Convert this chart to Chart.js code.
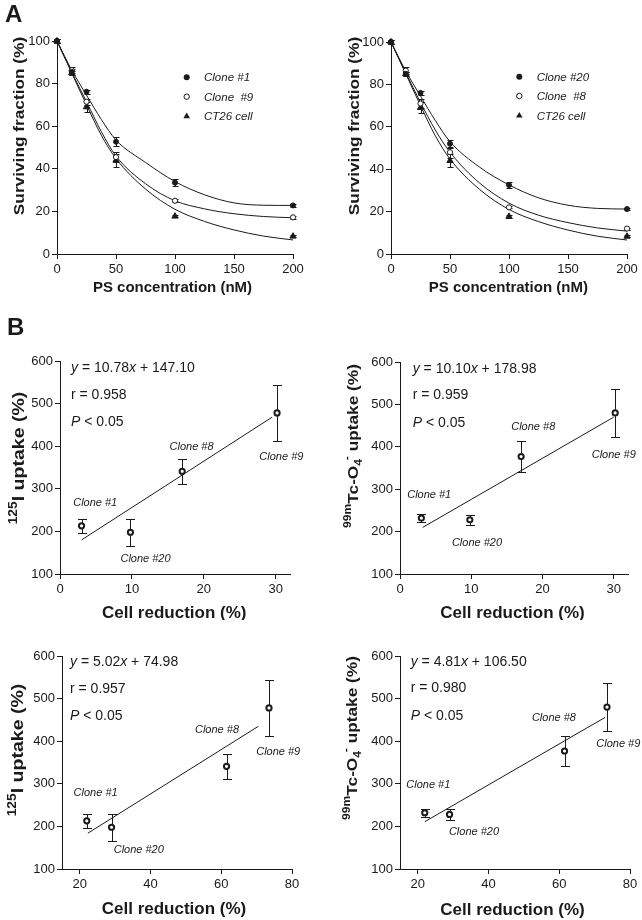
<!DOCTYPE html>
<html>
<head>
<meta charset="utf-8">
<script src="https://cdn.jsdelivr.net/npm/chart.js@4.4.1/dist/chart.umd.min.js"></script>
<style>
html,body{margin:0;padding:0;background:#fff;}
#wrap{position:relative;width:642px;height:920px;overflow:hidden;background:#fff;}
#wrap canvas{position:absolute;}
</style>
</head>
<body>
<div id="wrap"></div>
<script>
// ================= DATA =================
// Panel A: surviving fraction vs PS concentration
const doses = [0, 12.5, 25, 50, 100, 200];
const clone1SF  = [100, 85.5, 76.2, 52.7, 33.5, 22.8];
const clone1Err = [1, 1.5, 1, 2, 1.8, 0.6];
const clone9SF  = [100, 86.3, 71.5, 45.5, 25.0, 17.2];
const clone9Err = [1, 1.5, 1.5, 2.5, 0.6, 0.6];
const clone20SF  = [100, 85.0, 76.0, 52.0, 32.5, 21.2];
const clone20Err = [1, 1, 1, 2, 1.5, 0.5];
const clone8SF  = [100, 86.5, 71.0, 48.0, 22.0, 12.0];
const clone8Err = [1, 1.5, 2, 2.5, 0.5, 0.5];
const ct26SF  = [100, 85.0, 69.0, 44.0, 17.7, 8.3];
const ct26Err = [1, 1, 2.5, 3, 0.5, 0.5];

// fitted curves
const fitDoses   = [0, 12.5, 25, 37.5, 50, 75, 100, 125, 150, 175, 200];
const clone1Fit  = [100, 86.3, 74.6, 63.2, 53.5, 43.0, 34.0, 27.8, 24.0, 22.9, 22.8];
const clone9Fit  = [100, 85.3, 71.5, 57.5, 46.0, 33.0, 25.0, 21.2, 18.9, 17.6, 17.0];
const clone20Fit = [100, 86.3, 74.5, 63.0, 53.0, 41.0, 32.6, 26.5, 23.0, 21.5, 21.2];
const clone8Fit  = [100, 85.5, 71.5, 58.5, 48.0, 33.5, 24.0, 18.3, 14.8, 12.3, 10.8];
const ct26Fit    = [100, 85.0, 70.0, 55.8, 44.8, 30.5, 21.0, 15.3, 11.3, 8.4, 6.6];

// Panel B: uptake vs cell reduction
const cloneNames = ['Clone #1', 'Clone #20', 'Clone #8', 'Clone #9'];
const cellReductionLow  = [3, 9.8, 17, 30.2];      // top row x
const cellReductionHigh = [22, 29, 61.5, 73.5];    // bottom row x
const iodineUptake = [213, 198, 341, 478];
const iodineErr    = [17, 32, 29, 65];
const tcUptake     = [232, 228, 377, 480];
const tcErr        = [10, 12, 36, 57];

// regression lines (end points)
const regIodineLowX  = [3, 29.5],    regIodineLowY  = [180, 468];
const regTcLowX      = [3.2, 30],    regTcLowY      = [210, 470];
const regIodineHighX = [22.3, 70.5], regIodineHighY = [184, 435];
const regTcHighX     = [22, 73],     regTcHighY     = [211, 456];

const eqIodineLow  = ['10.78', '147.10', '0.958'];
const eqTcLow      = ['10.10', '178.98', '0.959'];
const eqIodineHigh = ['5.02', '74.98', '0.957'];
const eqTcHigh     = ['4.81', '106.50', '0.980'];

// tick values
const ticksDose   = [0, 50, 100, 150, 200];
const ticksSF     = [0, 20, 40, 60, 80, 100];
const ticksCRLow  = [0, 10, 20, 30];
const ticksCRHigh = [20, 40, 60, 80];
const ticksUptake = [100, 200, 300, 400, 500, 600];

// ================= HELPERS =================
const FONT = "'Liberation Sans', Arial, Helvetica, sans-serif";
const INK = '#1a1a1a';

function xy(xs, ys) { return xs.map((x, i) => ({ x: x, y: ys[i] })); }
function fontStr(r) { return (r.italic ? 'italic ' : '') + (r.bold ? 'bold ' : '') + r.size + 'px ' + FONT; }

function drawRich(ctx, item, ox, oy) {
  const runs = item.runs;
  ctx.save();
  ctx.translate(item.x - ox, item.y - oy);
  if (item.rot) ctx.rotate(item.rot * Math.PI / 180);
  ctx.scale(item.stretch || 1, 1);
  let total = 0;
  const widths = runs.map(r => { ctx.font = fontStr(r); const w = ctx.measureText(r.t).width + (r.dx || 0); total += w; return w; });
  const main = Math.max.apply(null, runs.map(r => r.size));
  let x = item.align === 'left' ? 0 : (item.align === 'right' ? -total : -total / 2);
  const base = main * 0.36;
  ctx.fillStyle = INK;
  ctx.textAlign = 'left';
  ctx.textBaseline = 'alphabetic';
  runs.forEach((r, i) => { ctx.font = fontStr(r); ctx.fillText(r.t, x + (r.dx || 0), base + (r.dy || 0)); x += widths[i]; });
  ctx.restore();
}

function drawMarker(ctx, kind, x, y) {
  ctx.save();
  ctx.lineWidth = 1; ctx.strokeStyle = INK; ctx.fillStyle = INK;
  ctx.beginPath();
  if (kind === 'filled') { ctx.arc(x, y, 3, 0, 2 * Math.PI); ctx.fill(); }
  else if (kind === 'open') { ctx.fillStyle = '#fff'; ctx.arc(x, y, 2.7, 0, 2 * Math.PI); ctx.fill(); ctx.stroke(); }
  else {
    const r = 3.8;
    for (let k = 0; k < 3; k++) {
      const a = k * 2 * Math.PI / 3;
      const px = x + Math.sin(a) * r, py = y - Math.cos(a) * r;
      if (k === 0) ctx.moveTo(px, py); else ctx.lineTo(px, py);
    }
    ctx.closePath(); ctx.fill();
  }
  ctx.restore();
}

const DECO = {};

const errorBars = {
  id: 'errorBars',
  beforeDatasetsDraw(chart) {
    const ctx = chart.ctx, ys = chart.scales.y;
    chart.data.datasets.forEach((ds, i) => {
      if (!ds.errors) return;
      const meta = chart.getDatasetMeta(i);
      const cw = ds.capHalf || 3;
      ctx.save();
      ctx.strokeStyle = INK; ctx.lineWidth = 1;
      meta.data.forEach((pt, j) => {
        const e = ds.errors[j];
        if (!e) return;
        const v = ds.data[j].y;
        const y1 = Math.round(ys.getPixelForValue(v + e)) + 0.5;
        const y2 = Math.round(ys.getPixelForValue(v - e)) + 0.5;
        const x = Math.round(pt.x) + 0.5;
        ctx.beginPath();
        ctx.moveTo(x, y1); ctx.lineTo(x, y2);
        ctx.moveTo(x - cw, y1); ctx.lineTo(x + cw, y1);
        ctx.moveTo(x - cw, y2); ctx.lineTo(x + cw, y2);
        ctx.stroke();
      });
      ctx.restore();
    });
  }
};

const deco = {
  id: 'deco',
  afterDraw(chart) {
    const spec = DECO[chart.canvas.id];
    if (!spec) return;
    const ctx = chart.ctx, ox = spec.offset[0], oy = spec.offset[1];
    (spec.texts || []).forEach(t => drawRich(ctx, t, ox, oy));
    (spec.labels || []).forEach(l => {
      const px = chart.scales.x.getPixelForValue(l.x) + ox;
      const py = chart.scales.y.getPixelForValue(l.y) + oy;
      drawRich(ctx, { x: px, y: py, runs: [{ t: l.t, size: 11, italic: true }] }, ox, oy);
    });
    if (spec.legend) {
      const lg = spec.legend;
      lg.rows.forEach(r => {
        drawMarker(ctx, r.kind, lg.markerX - ox, r.y - oy);
        drawRich(ctx, { x: lg.textX, y: r.y, align: 'left', runs: [{ t: r.t, size: 11.5, italic: true }] }, ox, oy);
      });
    }
  }
};
Chart.register(errorBars, deco);

function pointSet(label, xs, ys, errs, style, filled, radius, bw, cap) {
  return {
    label: label, data: xy(xs, ys), errors: errs, capHalf: cap, showLine: false,
    pointStyle: style, pointRadius: radius, pointHoverRadius: radius, pointBorderWidth: bw,
    pointBackgroundColor: filled ? INK : '#fff', pointBorderColor: INK,
    borderColor: INK, backgroundColor: filled ? INK : '#fff', clip: false
  };
}
function lineSet(label, xs, ys, smooth) {
  return {
    label: label, data: xy(xs, ys), showLine: true, pointRadius: 0, pointHoverRadius: 0,
    borderColor: INK, borderWidth: 1, fill: false, clip: false,
    cubicInterpolationMode: smooth ? 'monotone' : 'default', tension: 0
  };
}
function axis(pos, min, max, tickVals, size) {
  const o = {
    type: 'linear', position: pos, min: min, max: max, bounds: 'data',
    afterBuildTicks: s => { s.ticks = tickVals.map(v => ({ value: v })); },
    ticks: { autoSkip: false, maxRotation: 0,
             font: { family: FONT, size: 13 }, color: INK, padding: pos === 'left' ? 2 : 3 },
    grid: { drawOnChartArea: false, drawTicks: true, tickLength: 5, color: INK, lineWidth: 1 },
    border: { display: true, color: INK, width: 1 },
    title: { display: false }
  };
  if (pos === 'left') o.afterFit = s => { s.width = size; };
  else o.afterFit = s => { s.height = size; };
  return o;
}

function makeChart(p, datasets, xAx, yAx, spec) {
  const c = document.createElement('canvas');
  c.id = p.id; c.width = p.w; c.height = p.h;
  c.style.left = p.left + 'px'; c.style.top = p.top + 'px';
  c.style.width = p.w + 'px'; c.style.height = p.h + 'px';
  document.getElementById('wrap').appendChild(c);
  spec.offset = [p.left, p.top];
  DECO[p.id] = spec;
  new Chart(c.getContext('2d'), {
    type: 'scatter',
    data: { datasets: datasets },
    options: {
      responsive: false, animation: false, events: [], devicePixelRatio: 1,
      layout: { padding: { left: 0, top: p.padTop, right: p.padRight, bottom: 0 } },
      plugins: { legend: { display: false }, tooltip: { enabled: false } },
      scales: { x: axis('bottom', xAx[0], xAx[1], xAx[2], p.xH), y: axis('left', yAx[0], yAx[1], yAx[2], p.yW) }
    }
  });
}

function eqTexts(x, y0, eq) {
  return [
    { x: x, y: y0, align: 'left', runs: [{ t: 'y', size: 14, italic: true }, { t: ' = ' + eq[0], size: 14 }, { t: 'x', size: 14, italic: true }, { t: ' + ' + eq[1], size: 14 }] },
    { x: x, y: y0 + 26.7, align: 'left', runs: [{ t: 'r = ' + eq[2], size: 14 }] },
    { x: x, y: y0 + 54, align: 'left', runs: [{ t: 'P', size: 14, italic: true }, { t: ' < 0.05', size: 14 }] }
  ];
}
function cloneLabels(pos) { return pos.map((q, i) => ({ x: q[0], y: q[1], t: cloneNames[i] })); }

const titleSF = { t: 'Surviving fraction (%)', size: 15, bold: true };
const titlePS = { t: 'PS concentration (nM)', size: 15, bold: true };
const titleCR = { t: 'Cell reduction (%)', size: 17, bold: true };
const iodineTitle = [{ t: '125', size: 12, bold: true, dy: -7.5 }, { t: 'I uptake (%)', size: 17, bold: true }];
const tcTitle = [{ t: '99m', size: 10.5, bold: true, dy: -7 }, { t: 'Tc-O', size: 15, bold: true }, { t: '4', size: 10.5, bold: true, dy: 4 }, { t: '-', size: 10.5, bold: true, dy: -8, dx: -1 }, { t: ' uptake (%)', size: 15, bold: true }];

// ================= PANEL A =================
makeChart(
  { id: 'a1', left: 0, top: 0, w: 320, h: 312, padTop: 41, padRight: 27, yW: 57, xH: 58 },
  [
    pointSet('Clone #1', doses, clone1SF, clone1Err, 'circle', true, 2.5, 1, 3),
    pointSet('Clone #9', doses, clone9SF, clone9Err, 'circle', false, 2.6, 1, 3),
    pointSet('CT26 cell', doses, ct26SF, ct26Err, 'triangle', true, 3.6, 1, 3),
    lineSet('Clone #1 fit', fitDoses, clone1Fit, true),
    lineSet('Clone #9 fit', fitDoses, clone9Fit, true),
    lineSet('CT26 fit', fitDoses, ct26Fit, true)
  ],
  [0, 200, ticksDose], [0, 100, ticksSF],
  {
    texts: [
      { x: 5, y: 13, align: 'left', runs: [{ t: 'A', size: 24, bold: true }] },
      { x: 18.3, y: 126, rot: -90, stretch: 1.15, runs: [titleSF] },
      { x: 172.5, y: 286.7, runs: [titlePS] }
    ],
    legend: { markerX: 186.7, textX: 204, rows: [
      { y: 77.3, kind: 'filled', t: 'Clone #1' },
      { y: 96.7, kind: 'open', t: 'Clone  #9' },
      { y: 116.3, kind: 'tri', t: 'CT26 cell' } ] }
  }
);

makeChart(
  { id: 'a2', left: 320, top: 0, w: 322, h: 312, padTop: 42, padRight: 15, yW: 71, xH: 58 },
  [
    pointSet('Clone #20', doses, clone20SF, clone20Err, 'circle', true, 2.5, 1, 3),
    pointSet('Clone #8', doses, clone8SF, clone8Err, 'circle', false, 2.6, 1, 3),
    pointSet('CT26 cell', doses, ct26SF, ct26Err, 'triangle', true, 3.6, 1, 3),
    lineSet('Clone #20 fit', fitDoses, clone20Fit, true),
    lineSet('Clone #8 fit', fitDoses, clone8Fit, true),
    lineSet('CT26 fit', fitDoses, ct26Fit, true)
  ],
  [0, 200, ticksDose], [0, 100, ticksSF],
  {
    texts: [
      { x: 353.3, y: 126, rot: -90, stretch: 1.15, runs: [titleSF] },
      { x: 508.3, y: 286.7, runs: [titlePS] }
    ],
    legend: { markerX: 519.3, textX: 536.7, rows: [
      { y: 76.7, kind: 'filled', t: 'Clone #20' },
      { y: 96, kind: 'open', t: 'Clone  #8' },
      { y: 115.7, kind: 'tri', t: 'CT26 cell' } ] }
  }
);

// ================= PANEL B =================
function bSets(xs, ys, errs, rx, ry) {
  return [
    pointSet('uptake', xs, ys, errs, 'circle', false, 2.6, 2, 4.5),
    lineSet('regression', rx, ry, false)
  ];
}

makeChart(
  { id: 'b1', left: 0, top: 312, w: 320, h: 308, padTop: 49, padRight: 30, yW: 60, xH: 46 },
  bSets(cellReductionLow, iodineUptake, iodineErr, regIodineLowX, regIodineLowY),
  [0, 32, ticksCRLow], [100, 600, ticksUptake],
  {
    texts: [
      { x: 7, y: 326.5, align: 'left', runs: [{ t: 'B', size: 24, bold: true }] },
      { x: 18, y: 458, rot: -90, stretch: 1.15, runs: iodineTitle },
      { x: 174.2, y: 611.7, runs: [titleCR] }
    ].concat(eqTexts(71, 367.3, eqIodineLow)),
    labels: cloneLabels([[4.9, 270], [11.9, 137], [18.3, 400], [30.8, 378]])
  }
);

makeChart(
  { id: 'b2', left: 320, top: 312, w: 322, h: 308, padTop: 50, padRight: 14, yW: 80, xH: 46 },
  bSets(cellReductionLow, tcUptake, tcErr, regTcLowX, regTcLowY),
  [0, 32, ticksCRLow], [100, 600, ticksUptake],
  {
    texts: [
      { x: 353, y: 446, rot: -90, stretch: 1.15, runs: tcTitle },
      { x: 512.5, y: 611.7, runs: [titleCR] }
    ].concat(eqTexts(412.7, 367.7, eqTcLow)),
    labels: cloneLabels([[4.1, 288], [10.8, 175], [18.7, 450], [30, 383]])
  }
);

makeChart(
  { id: 'b3', left: 0, top: 620, w: 320, h: 300, padTop: 36, padRight: 28, yW: 62, xH: 51 },
  bSets(cellReductionHigh, iodineUptake, iodineErr, regIodineHighX, regIodineHighY),
  [15, 80, ticksCRHigh], [100, 600, ticksUptake],
  {
    texts: [
      { x: 17, y: 750, rot: -90, stretch: 1.15, runs: iodineTitle },
      { x: 174, y: 908.3, runs: [titleCR] }
    ].concat(eqTexts(70, 661, eqIodineHigh)),
    labels: cloneLabels([[24.5, 281], [36.7, 147], [58.8, 429], [76.1, 378]])
  }
);

makeChart(
  { id: 'b4', left: 320, top: 620, w: 322, h: 300, padTop: 36, padRight: 12, yW: 80, xH: 51 },
  bSets(cellReductionHigh, tcUptake, tcErr, regTcHighX, regTcHighY),
  [15, 80, ticksCRHigh], [100, 600, ticksUptake],
  {
    texts: [
      { x: 352, y: 738, rot: -90, stretch: 1.15, runs: tcTitle },
      { x: 512.5, y: 909, runs: [titleCR] }
    ].concat(eqTexts(410.7, 660.7, eqTcHigh)),
    labels: cloneLabels([[23, 300], [35.9, 190], [58.5, 457], [76.7, 395]])
  }
);
</script>
</body>
</html>
